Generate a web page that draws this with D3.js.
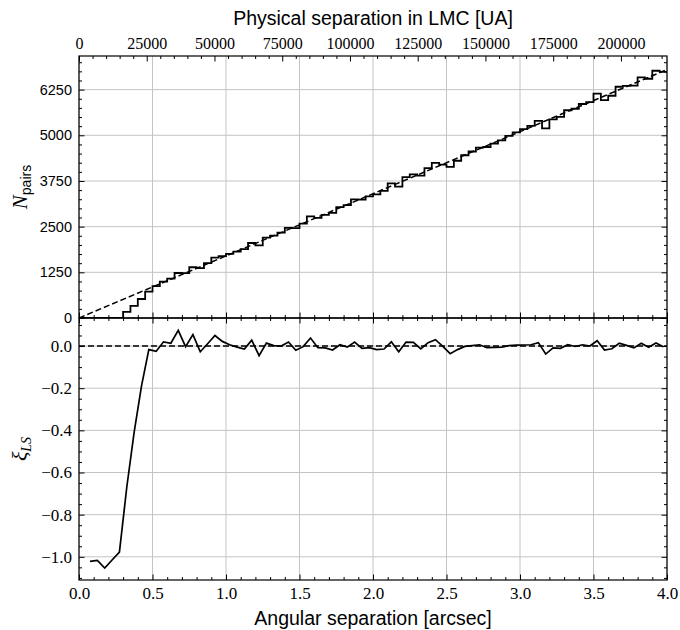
<!DOCTYPE html>
<html><head><meta charset="utf-8">
<script src="https://cdn.jsdelivr.net/npm/d3@7"></script>
<style>body{margin:0;background:#fff}</style>
</head><body><svg id="c" width="680" height="630"></svg>
<script>
// ---------------- data ----------------
const binEdges = [0.00,0.05,0.10,0.15,0.20,0.25,0.30,0.35,0.40,0.45,0.50,0.55,0.60,0.65,0.70,0.75,0.80,0.85,0.90,0.95,
  1.00,1.05,1.10,1.15,1.20,1.25,1.30,1.35,1.40,1.45,1.50,1.55,1.60,1.65,1.70,1.75,1.80,1.85,1.90,1.95,
  2.00,2.05,2.10,2.15,2.20,2.25,2.30,2.35,2.40,2.45,2.50,2.55,2.60,2.65,2.70,2.75,2.80,2.85,2.90,2.95,
  3.00,3.05,3.10,3.15,3.20,3.25,3.30,3.35,3.40,3.45,3.50,3.55,3.60,3.65,3.70,3.75,3.80,3.85,3.90,3.95,4.00];
const pairCounts = [0,0,0,0,0,0,165,330,520,720,870,997,1076,1232,1229,1389,1365,1504,1651,1694,
  1753,1818,1886,2053,1987,2198,2257,2338,2469,2457,2585,2779,2740,2822,2877,3036,3087,3248,3237,3331,
  3384,3478,3685,3598,3854,3933,3897,4102,4246,4199,4138,4303,4454,4557,4660,4680,4774,4863,4982,5078,
  5168,5259,5397,5192,5433,5506,5686,5726,5857,5908,6142,5962,6082,6329,6351,6360,6587,6548,6766,6737];
const modelSep = [0, 4.0];
const modelPairs = [0, 6800];
const xiSep = [0.075,0.125,0.175,0.225,0.275,0.325,0.375,0.425,0.475,0.525,0.575,0.625,0.675,0.725,0.775,0.825,0.875,0.925,0.975,
  1.025,1.075,1.125,1.175,1.225,1.275,1.325,1.375,1.425,1.475,1.525,1.575,1.625,1.675,1.725,1.775,1.825,1.875,1.925,1.975,
  2.025,2.075,2.125,2.175,2.225,2.275,2.325,2.375,2.425,2.475,2.525,2.575,2.625,2.675,2.725,2.775,2.825,2.875,2.925,2.975,
  3.025,3.075,3.125,3.175,3.225,3.275,3.325,3.375,3.425,3.475,3.525,3.575,3.625,3.675,3.725,3.775,3.825,3.875,3.925,3.975];
const xiLS = [-1.022,-1.017,-1.053,-1.015,-0.978,-0.67,-0.41,-0.19,-0.017,-0.025,0.02,0.013,0.074,-0.003,0.054,-0.027,0.011,0.05,0.022,
  0.006,-0.005,-0.014,0.028,-0.046,0.014,0.002,0.0,0.019,-0.02,-0.003,0.038,-0.008,-0.009,-0.019,0.006,-0.005,0.019,-0.011,-0.008,
  -0.017,-0.014,0.02,-0.027,0.019,0.017,-0.014,0.016,0.03,-0.002,-0.036,-0.017,-0.002,0.002,0.006,-0.008,-0.006,-0.005,0.002,0.004,
  0.005,0.006,0.016,-0.038,-0.009,-0.011,0.006,-0.002,0.006,0.0,0.025,-0.019,-0.013,0.013,0.003,-0.009,0.013,-0.006,0.014,-0.003];
const xMajorTicks = [0.0,0.5,1.0,1.5,2.0,2.5,3.0,3.5,4.0];
const auMajorTicks = [0,25000,50000,75000,100000,125000,150000,175000,200000];
const nMajorTicks = [0,1250,2500,3750,5000,6250];
const xiMajorTicks = [-1.0,-0.8,-0.6,-0.4,-0.2,0.0];

// ---------------- layout ----------------
const L = 79, R = 667, T = 56, M = 318, B = 580;
const svg = d3.select('#c');
const x = d3.scaleLinear([0, 4], [L, R]);
const xAU = d3.scaleLinear([0, 217000], [L, R]);
const yN = d3.scaleLinear([0, 7170], [M, T]);
const yXi = d3.scaleLinear([-1.11, 0.133], [B, M]);

const SERIF = "'Liberation Serif','DejaVu Serif',serif";
const SANS = "'Liberation Sans','DejaVu Sans',sans-serif";
const gridCol = '#c4c4c4';

function minorRange(lo, hi, step, skipStep) {
  const out = [];
  const n = Math.round((hi - lo) / step);
  for (let i = 0; i <= n; i++) {
    const v = lo + i * step;
    if (Math.abs(v / skipStep - Math.round(v / skipStep)) > 1e-6) out.push(+v.toFixed(6));
  }
  return out;
}

// ---------------- grids ----------------
const grid = svg.append('g').attr('stroke', gridCol).attr('stroke-width', 1);
xMajorTicks.forEach(v => {
  grid.append('line').attr('x1', x(v)).attr('x2', x(v)).attr('y1', T).attr('y2', B);
});
nMajorTicks.forEach(v => {
  grid.append('line').attr('x1', L).attr('x2', R).attr('y1', yN(v)).attr('y2', yN(v));
});
xiMajorTicks.forEach(v => {
  grid.append('line').attr('x1', L).attr('x2', R).attr('y1', yXi(v)).attr('y2', yXi(v));
});

// ---------------- top panel data ----------------
const histPts = binEdges.map((e, i) => [e, i < pairCounts.length ? pairCounts[i] : pairCounts[pairCounts.length - 1]]);
const stepLine = d3.line().x(d => x(d[0])).y(d => yN(d[1])).curve(d3.curveStepAfter);
svg.append('clipPath').attr('id', 'topclip').append('rect')
  .attr('x', L).attr('y', T).attr('width', R - L).attr('height', M - T);
svg.append('path').attr('d', stepLine(histPts)).attr('fill', 'none')
  .attr('stroke', '#000').attr('stroke-width', 1.8).attr('clip-path', 'url(#topclip)');
svg.append('path').attr('d', d3.line().x(d => x(d[0])).y(d => yN(d[1]))(modelSep.map((s, i) => [s, modelPairs[i]])))
  .attr('fill', 'none').attr('stroke', '#000').attr('stroke-width', 1.5).attr('stroke-dasharray', '6,3')
  .attr('clip-path', 'url(#topclip)');

// ---------------- bottom panel data ----------------
svg.append('line').attr('x1', L).attr('x2', R).attr('y1', yXi(0)).attr('y2', yXi(0))
  .attr('stroke', '#000').attr('stroke-width', 1.5).attr('stroke-dasharray', '6,3');
svg.append('path').attr('d', d3.line().x(d => x(d[0])).y(d => yXi(d[1]))(xiSep.map((s, i) => [s, xiLS[i]])))
  .attr('fill', 'none').attr('stroke', '#000').attr('stroke-width', 1.7).attr('stroke-linejoin', 'miter');

// ---------------- axes ----------------
function axis(gen, scale, values, size, labels, tx, ty, font, fsize) {
  const a = gen(scale).tickValues(values).tickSizeInner(size).tickSizeOuter(0).tickPadding(labels ? 7 : 0);
  if (labels) a.tickFormat(labels); else a.tickFormat('');
  const g = svg.append('g').attr('transform', `translate(${tx},${ty})`).call(a);
  g.select('.domain').remove();
  g.selectAll('.tick line').attr('stroke', '#000').attr('stroke-width', 1);
  g.selectAll('.tick text').attr('fill', '#000').style('font-family', font).style('font-size', fsize + 'px');
  return g;
}
const fmt1 = d3.format('.1f');
const xMinor = minorRange(0, 4, 0.1, 0.5);
// bottom axis
axis(d3.axisBottom, x, xMajorTicks, -5.5, fmt1, 0, B, SERIF, 17);
axis(d3.axisBottom, x, xMinor, -3, null, 0, B);
// shared middle edge
axis(d3.axisBottom, x, xMajorTicks, -5.5, null, 0, M);
axis(d3.axisBottom, x, xMinor, -3, null, 0, M);
axis(d3.axisTop, x, xMajorTicks, -5.5, null, 0, M);
axis(d3.axisTop, x, xMinor, -3, null, 0, M);
// top axis (physical separation)
axis(d3.axisTop, xAU, auMajorTicks, -5.5, d3.format('d'), 0, T, SERIF, 16);
axis(d3.axisTop, xAU, minorRange(0, 215000, 5000, 25000), -3, null, 0, T);
// top panel y
axis(d3.axisLeft, yN, nMajorTicks, -5.5, d3.format('d'), L, 0, SANS, 14.5);
axis(d3.axisLeft, yN, minorRange(0, 7000, 250, 1250), -3, null, L, 0);
axis(d3.axisRight, yN, nMajorTicks, -5.5, null, R, 0);
axis(d3.axisRight, yN, minorRange(0, 7000, 250, 1250), -3, null, R, 0);
// bottom panel y
const xiMinor = minorRange(-1.1, 0.1, 0.05, 0.2);
axis(d3.axisLeft, yXi, xiMajorTicks, -5.5, fmt1, L, 0, SERIF, 17);
axis(d3.axisLeft, yXi, xiMinor, -3, null, L, 0);
axis(d3.axisRight, yXi, xiMajorTicks, -5.5, null, R, 0);
axis(d3.axisRight, yXi, xiMinor, -3, null, R, 0);

// spines
[[T, M], [M, B]].forEach(([a, b]) => {
  svg.append('rect').attr('x', L).attr('y', a).attr('width', R - L).attr('height', b - a)
    .attr('fill', 'none').attr('stroke', '#000').attr('stroke-width', 1.2);
});

// ---------------- titles ----------------
svg.append('text').attr('x', (L + R) / 2).attr('y', 25).attr('text-anchor', 'middle')
  .style('font-family', SANS).style('font-size', '19.5px').text('Physical separation in LMC [UA]');
svg.append('text').attr('x', (L + R) / 2).attr('y', 625).attr('text-anchor', 'middle')
  .style('font-family', SANS).style('font-size', '19.5px').text('Angular separation [arcsec]');

const yl1 = svg.append('text').attr('transform', `translate(27,${(T + M) / 2}) rotate(-90)`).attr('text-anchor', 'middle');
yl1.append('tspan').style('font-family', SERIF).style('font-style', 'italic').style('font-size', '21px').text('N');
yl1.append('tspan').attr('dy', 4).style('font-family', SANS).style('font-size', '14px').text('pairs');

const yl2 = svg.append('text').attr('transform', `translate(27,${(M + B) / 2}) rotate(-90)`).attr('text-anchor', 'middle');
yl2.append('tspan').style('font-family', SERIF).style('font-style', 'italic').style('font-size', '22px').text('ξ');
yl2.append('tspan').attr('dy', 4).style('font-family', SERIF).style('font-style', 'italic').style('font-size', '14px').text('LS');
</script>
</body></html>
